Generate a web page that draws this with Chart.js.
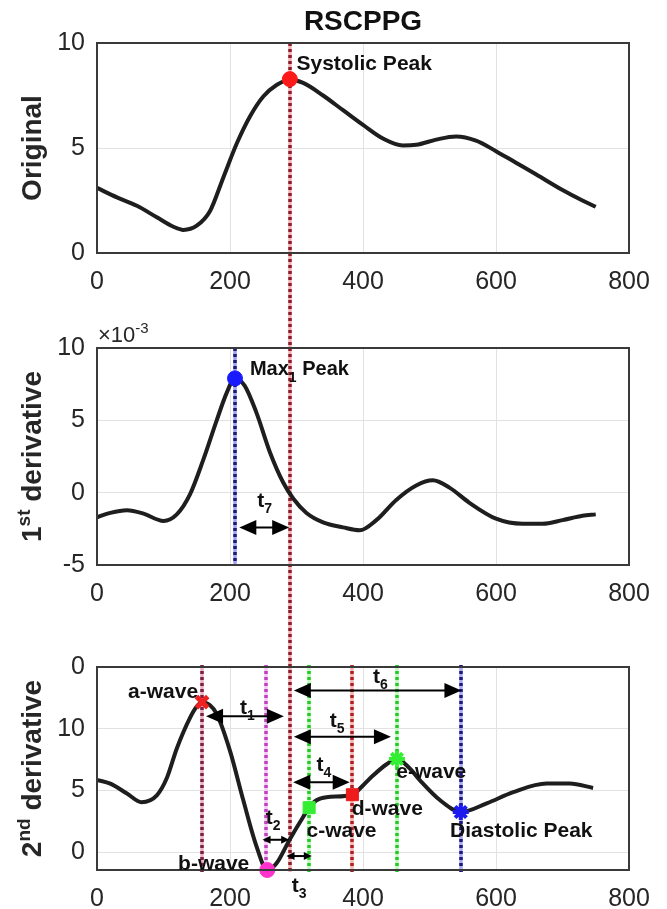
<!DOCTYPE html>
<html><head><meta charset="utf-8">
<script src="https://cdn.jsdelivr.net/npm/chart.js@4.4.0/dist/chart.umd.min.js"></script>
<style>
html,body{margin:0;padding:0;background:#fff;}
body{width:667px;height:909px;position:relative;overflow:hidden;}
canvas{position:absolute;left:0;}
</style></head><body>
<canvas id="c1" width="667" height="300" style="top:0px"></canvas>
<canvas id="c2" width="667" height="310" style="top:300px"></canvas>
<canvas id="c3" width="667" height="299" style="top:610px"></canvas>
<script>
// ---------------- data ----------------
const xTickValues = [0, 200, 400, 600, 800];

const origX = [0,30,60,90,115,130,150,170,190,210,230,250,270,290,310,340,370,400,430,460,480,510,540,570,600,630,660,700,730,750];
const origY = [3.1,2.65,2.25,1.7,1.25,1.1,1.3,2.0,3.6,5.2,6.5,7.45,8.0,8.25,8.1,7.5,6.8,6.1,5.45,5.12,5.15,5.4,5.55,5.35,4.85,4.3,3.75,3.0,2.5,2.2];
const origTicks = [0, 5, 10];
const origTickLabels = ['0', '5', '10'];

const d1X = [0,20,45,70,100,120,140,160,180,195,207,222,240,260,280,295,315,340,370,395,420,450,480,505,530,560,600,640,670,700,730,750];
const d1Y = [-1.7,-1.4,-1.22,-1.45,-1.95,-1.5,-0.1,2.3,5.0,6.9,7.9,7.4,5.5,2.8,0.7,-0.4,-1.4,-2.05,-2.4,-2.6,-1.9,-0.5,0.5,0.85,0.35,-0.7,-1.8,-2.15,-2.15,-1.9,-1.6,-1.5];
const d1Ticks = [-5, 0, 5, 10];
const d1TickLabels = ['-5', '0', '5', '10'];

const d2X = [0,20,45,67,90,105,120,140,150,158,170,180,200,220,240,256,270,290,310,319,330,345,384,400,415,435,451,470,486,516,547,586,626,676,711,746];
const d2Y = [5.85,5.55,4.75,4.05,4.6,6.0,8.4,10.9,11.8,12.15,11.9,11.2,8.2,4.2,0.45,-1.45,-0.9,1.05,2.85,3.6,4.2,4.45,4.65,5.4,6.2,7.1,7.55,6.8,5.8,4.2,3.25,3.95,4.86,5.55,5.55,5.2];
const d2Ticks = [0, 5, 10, 15];
const d2TickLabels = ['0', '5', '10', '0'];

// feature points
const systolicX = 290, systolicY = 8.28;
const max1X = 207.5, max1Y = 7.9;
const waveNames = ['a-wave', 'b-wave', 'c-wave', 'd-wave', 'e-wave', 'Diastolic Peak'];
const waveX = [158, 256, 319, 384, 451, 547];
const waveY = [12.15, -1.45, 3.6, 4.65, 7.55, 3.25];
const waveLineX = [158, 254, 319, 384, 451, 548];
const waveLabelX = [152, 229, 315, 383, 450, 531];
const waveLabelY = [12.5, -1.45, 1.2, 3.0, 6.0, 1.2];

// time intervals (double arrows) in plot 3
const intervalNames = ['1', '2', '3', '4', '5', '6'];
const intervalFrom = [164, 249, 285, 295, 296, 296];
const intervalTo = [281, 289, 323, 380, 442, 548];
const intervalY = [11.0, 1.0, -0.32, 5.67, 9.35, 13.1];
const intervalLabelX = [215, 253.6, 292.7, 330, 350, 415];
const intervalLabelY = [11.2, 2.26, -3.2, 6.6, 10.1, 13.7];
// t7 in plot 2
const t7From = 214, t7To = 289, t7Y = -2.4, t7LabelX = 241, t7LabelY = -0.97;

// ---------------- helpers ----------------
const FONT = "'Liberation Sans', Arial, Helvetica, sans-serif";
const INK = '#262626';

function fontStr(it) { return (it.bold ? 'bold ' : '') + it.size + 'px ' + FONT; }
function drawRich(ctx, items, x, y, align, color) {
  let w = 0;
  for (const it of items) { ctx.font = fontStr(it); it._w = ctx.measureText(it.text).width; w += it._w; }
  let cx = align === 'center' ? x - w / 2 : align === 'right' ? x - w : x;
  ctx.textAlign = 'left'; ctx.textBaseline = 'alphabetic';
  ctx.fillStyle = color || '#111';
  for (const it of items) { ctx.font = fontStr(it); ctx.fillText(it.text, cx, y + (it.dy || 0)); cx += it._w; }
}
function yTitle(chart, items) {
  const ctx = chart.ctx, a = chart.chartArea;
  ctx.save();
  ctx.translate(41, (a.top + a.bottom) / 2);
  ctx.rotate(-Math.PI / 2);
  drawRich(ctx, items, 0, 0, 'center', INK);
  ctx.restore();
}
function vline(chart, xv, dark, light, y0, y1) {
  const ctx = chart.ctx;
  const px = Math.round(chart.scales.x.getPixelForValue(xv));
  ctx.save();
  ctx.lineWidth = 3.5;
  ctx.strokeStyle = light;
  ctx.beginPath(); ctx.moveTo(px, y0); ctx.lineTo(px, y1); ctx.stroke();
  ctx.setLineDash([3, 3]);
  ctx.strokeStyle = dark;
  ctx.beginPath(); ctx.moveTo(px, y0); ctx.lineTo(px, y1); ctx.stroke();
  ctx.restore();
}
function doubleArrow(chart, x1v, x2v, yv) {
  const ctx = chart.ctx, sx = chart.scales.x, sy = chart.scales.y;
  const x1 = sx.getPixelForValue(x1v), x2 = sx.getPixelForValue(x2v), y = sy.getPixelForValue(yv);
  const small = (x2 - x1) < 40;
  const hl = small ? 8 : 17, hw = small ? 8 : 15;
  ctx.save();
  ctx.fillStyle = '#000'; ctx.strokeStyle = '#000'; ctx.lineWidth = 2;
  ctx.beginPath(); ctx.moveTo(x1 + hl / 2, y); ctx.lineTo(x2 - hl / 2, y); ctx.stroke();
  for (const [xt, d] of [[x1, 1], [x2, -1]]) {
    ctx.beginPath(); ctx.moveTo(xt, y); ctx.lineTo(xt + d * hl, y - hw / 2); ctx.lineTo(xt + d * hl, y + hw / 2); ctx.closePath(); ctx.fill();
  }
  ctx.restore();
}
function tLabel(chart, sub, xv, yv) {
  const px = chart.scales.x.getPixelForValue(xv), py = chart.scales.y.getPixelForValue(yv);
  drawRich(chart.ctx, [{ text: 't', size: 21, bold: true }, { text: sub, size: 14, bold: true, dy: 6 }], px, py, 'left', '#111');
}
function box(chart) {
  const ctx = chart.ctx, a = chart.chartArea;
  ctx.save(); ctx.strokeStyle = '#3a3a3a'; ctx.lineWidth = 2;
  ctx.strokeRect(a.left, a.top, a.right - a.left, a.bottom - a.top);
  ctx.restore();
}

function xScale(h) {
  return {
    type: 'linear', min: 0, max: 800,
    afterBuildTicks: s => { s.ticks = xTickValues.map(v => ({ value: v })); },
    ticks: { font: { family: FONT, size: 25 }, color: INK, padding: 14, maxRotation: 0, autoSkip: false },
    grid: { color: '#e2e2e2', lineWidth: 1, drawTicks: false },
    border: { display: false },
    afterFit: s => { s.height = h; }
  };
}
function yScale(min, max, ticks, labels) {
  return {
    type: 'linear', min: min, max: max,
    afterBuildTicks: s => { s.ticks = ticks.map(v => ({ value: v })); },
    ticks: { font: { family: FONT, size: 25 }, color: INK, padding: 12, autoSkip: false,
      callback: v => labels[ticks.indexOf(v)] },
    grid: { color: '#e2e2e2', lineWidth: 1, drawTicks: false },
    border: { display: false },
    afterFit: s => { s.width = 97; }
  };
}
function curve(xs, ys) {
  return { data: xs.map((x, i) => ({ x: x, y: ys[i] })), showLine: true, borderColor: '#1e1e1e', borderWidth: 4,
    pointRadius: 0, cubicInterpolationMode: 'monotone', fill: false, order: 2 };
}
function marker(x, y, style, r, bg, border, bw) {
  return { data: [{ x: x, y: y }], showLine: false, pointStyle: style, pointRadius: r, backgroundColor: bg,
    borderColor: border, borderWidth: bw, clip: false, order: 1 };
}
function baseOptions(layoutPad, xs, ys) {
  return {
    responsive: false, animation: false, devicePixelRatio: 1,
    layout: { padding: layoutPad },
    plugins: { legend: { display: false }, tooltip: { enabled: false }, title: { display: false } },
    scales: { x: xs, y: ys }
  };
}

// ---------------- chart 1: Original ----------------
new Chart(document.getElementById('c1'), {
  type: 'scatter',
  data: { datasets: [curve(origX, origY), marker(systolicX, systolicY, 'circle', 7.5, '#ff1a1a', '#ff1a1a', 1)] },
  options: baseOptions({ left: 0, right: 38, top: 43, bottom: 0 }, xScale(47), yScale(0, 10, origTicks, origTickLabels)),
  plugins: [{
    id: 'p1',
    beforeDatasetsDraw(chart) {
      vline(chart, systolicX, '#8b1c2c', '#f4b4b4', chart.chartArea.top, chart.height);
    },
    afterDatasetsDraw(chart) {
      const ctx = chart.ctx, a = chart.chartArea;
      box(chart);
      drawRich(ctx, [{ text: 'RSCPPG', size: 28, bold: true }], (a.left + a.right) / 2, 30, 'center', '#111');
      drawRich(ctx, [{ text: 'Systolic Peak', size: 21, bold: true }], chart.scales.x.getPixelForValue(300), chart.scales.y.getPixelForValue(8.71), 'left', '#111');
      yTitle(chart, [{ text: 'Original', size: 28, bold: true }]);
    }
  }]
});

// ---------------- chart 2: 1st derivative ----------------
new Chart(document.getElementById('c2'), {
  type: 'scatter',
  data: { datasets: [curve(d1X, d1Y), marker(max1X, max1Y, 'circle', 7.5, '#1a1aff', '#1a1aff', 1)] },
  options: baseOptions({ left: 0, right: 38, top: 48, bottom: 0 }, xScale(45), yScale(-5, 10, d1Ticks, d1TickLabels)),
  plugins: [{
    id: 'p2',
    beforeDatasetsDraw(chart) {
      const a = chart.chartArea;
      vline(chart, max1X, '#1a1a70', '#a0a0f4', a.top, a.bottom);
      vline(chart, systolicX, '#8b1c2c', '#f4b4b4', 0, chart.height);
    },
    afterDatasetsDraw(chart) {
      const ctx = chart.ctx, a = chart.chartArea, sx = chart.scales.x, sy = chart.scales.y;
      box(chart);
      doubleArrow(chart, t7From, t7To, t7Y);
      tLabel(chart, '7', t7LabelX, t7LabelY);
      drawRich(ctx, [{ text: 'Max', size: 20, bold: true }, { text: '1', size: 14, bold: true, dy: 7 }, { text: ' Peak', size: 20, bold: true }],
        sx.getPixelForValue(230), sy.getPixelForValue(8.1), 'left', '#111');
      drawRich(ctx, [{ text: '\u00d710', size: 22 }, { text: '-3', size: 15, dy: -9 }], a.left + 1, a.top - 6, 'left', INK);
      yTitle(chart, [{ text: '1', size: 28, bold: true }, { text: 'st', size: 19, bold: true, dy: -11 }, { text: ' derivative', size: 28, bold: true }]);
    }
  }]
});

// ---------------- chart 3: 2nd derivative ----------------
const waveStyles = [
  ['crossRot', 8, '#ee2020', '#ee2020', 5],
  ['circle', 7.5, '#ff33cc', '#ff33cc', 1],
  ['rect', 8.5, '#33ee33', '#33ee33', 1],
  ['rect', 8.5, '#ee1c1c', '#ee1c1c', 1],
  ['star', 8, '#33ee33', '#33ee33', 4],
  ['star', 8, '#1a1aee', '#1a1aee', 4]
];
const waveLineColors = [
  ['#7d1f3f', '#eab0c5'], ['#c040c0', '#f5c8f5'], ['#22cc22', '#c0f8c0'],
  ['#b02020', '#f4b4b4'], ['#22cc22', '#c0f8c0'], ['#1a1a80', '#a8a8f4']
];
new Chart(document.getElementById('c3'), {
  type: 'scatter',
  data: { datasets: [curve(d2X, d2Y)].concat(waveX.map((x, i) => marker(x, waveY[i], ...waveStyles[i]))) },
  options: baseOptions({ left: 0, right: 38, top: 57, bottom: 0 }, xScale(39), yScale(-1.45, 15, d2Ticks, d2TickLabels)),
  plugins: [{
    id: 'p3',
    beforeDatasetsDraw(chart) {
      const a = chart.chartArea;
      waveLineX.forEach((x, i) => vline(chart, x, waveLineColors[i][0], waveLineColors[i][1], a.top - 2, a.bottom + 2));
      vline(chart, systolicX, '#8b1c2c', '#f4b4b4', 0, a.bottom + 2);
    },
    afterDatasetsDraw(chart) {
      const ctx = chart.ctx, sx = chart.scales.x, sy = chart.scales.y;
      box(chart);
      intervalNames.forEach((n, i) => {
        doubleArrow(chart, intervalFrom[i], intervalTo[i], intervalY[i]);
        tLabel(chart, n, intervalLabelX[i], intervalLabelY[i]);
      });
      waveNames.forEach((n, i) => {
        const align = i < 2 ? 'right' : 'left';
        drawRich(ctx, [{ text: n, size: 21, bold: true }], sx.getPixelForValue(waveLabelX[i]), sy.getPixelForValue(waveLabelY[i]), align, '#111');
      });
      yTitle(chart, [{ text: '2', size: 28, bold: true }, { text: 'nd', size: 19, bold: true, dy: -11 }, { text: ' derivative', size: 28, bold: true }]);
    }
  }]
});
</script>
</body></html>
